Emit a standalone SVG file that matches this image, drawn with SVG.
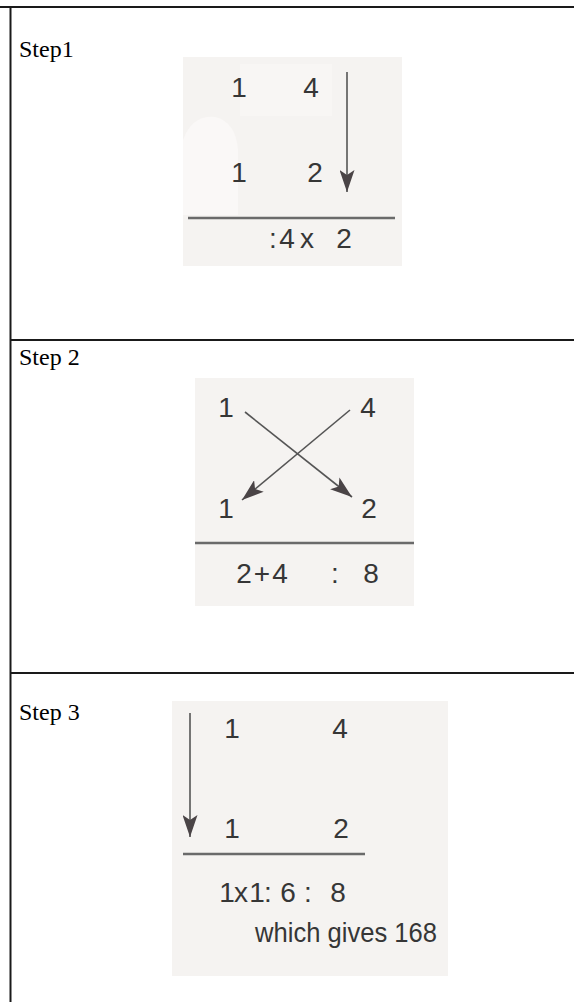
<svg xmlns="http://www.w3.org/2000/svg" width="574" height="1002" viewBox="0 0 574 1002">
  <defs>
    <style>
      .label { font-family: "Liberation Serif", "Times New Roman", serif; font-size: 24px; fill: #000; }
      .num { font-family: "Liberation Sans", Arial, sans-serif; font-size: 28px; fill: #363636; text-anchor: middle; }
      .txt { font-family: "Liberation Sans", Arial, sans-serif; font-size: 28px; fill: #363636; }
      .panel { fill: #f5f3f1; }
      .rule { stroke: #6a6a6a; stroke-width: 2.5; }
      .arrow { stroke: #555; stroke-width: 1.6; fill: none; }
      .grid { stroke: #1a1a1a; stroke-width: 2; fill: none; }
    </style>
    <marker id="head" viewBox="0 0 22 15" refX="22" refY="7.5" markerWidth="22" markerHeight="15" markerUnits="userSpaceOnUse" orient="auto">
      <path d="M0,0 L22,7.5 L0,15 L5,7.5 Z" fill="#4a4446"/>
    </marker>
  </defs>

  <g id="table">
    <line class="grid" x1="0" y1="7" x2="574" y2="7"/>
    <line class="grid" x1="10.5" y1="6" x2="10.5" y2="1002"/>
    <line class="grid" x1="10" y1="340" x2="574" y2="340"/>
    <line class="grid" x1="10" y1="673" x2="574" y2="673"/>
  </g>

  <g id="step1">
    <text class="label" x="19" y="57">Step1</text>
    <rect class="panel" x="183" y="57" width="219" height="209"/>
    <rect x="240" y="64" width="92" height="52" fill="#f8f6f4"/>
    <path d="M183,140 Q192,115 215,117 Q236,122 238,150 L238,215 L183,215 Z" fill="#faf8f7"/>
    <text class="num" x="239" y="97">1</text>
    <text class="num" x="311" y="97">4</text>
    <text class="num" x="239" y="182">1</text>
    <text class="num" x="315" y="182">2</text>
    <line class="rule" x1="188" y1="218" x2="395" y2="218"/>
    <text class="num" x="273 287 307 344" y="248">:4x2</text>
  </g>

  <g id="step2">
    <text class="label" x="19" y="365">Step 2</text>
    <rect class="panel" x="195" y="378" width="219" height="228"/>
    <text class="num" x="226" y="417">1</text>
    <text class="num" x="368" y="417">4</text>
    <text class="num" x="226" y="518">1</text>
    <text class="num" x="369" y="518">2</text>
    <line class="rule" x1="195" y1="543" x2="414" y2="543"/>
    <text class="num" x="244 262 280 335 371" y="583">2+4:8</text>
  </g>

  <g id="step3">
    <text class="label" x="19" y="720">Step 3</text>
    <rect class="panel" x="172" y="701" width="276" height="275"/>
    <text class="num" x="232" y="738">1</text>
    <text class="num" x="340" y="738">4</text>
    <text class="num" x="232" y="838">1</text>
    <text class="num" x="341" y="838">2</text>
    <line class="rule" x1="183" y1="854" x2="365" y2="854"/>
    <text class="num" x="227 234 241 249 257 262 268 278 288 298 308 320 338" y="902">1 x 1 : 6 : 8</text>
    <text class="txt" x="255" y="942" textLength="182" lengthAdjust="spacingAndGlyphs">which gives 168</text>
  </g>

  <g id="connectors">
    <line class="arrow" x1="347" y1="72" x2="347" y2="192" marker-end="url(#head)"/>
    <line class="arrow" x1="245" y1="412" x2="352" y2="497" marker-end="url(#head)"/>
    <line class="arrow" x1="350" y1="410" x2="242" y2="500" marker-end="url(#head)"/>
    <line class="arrow" x1="190" y1="713" x2="190" y2="837" marker-end="url(#head)"/>
  </g>
</svg>
